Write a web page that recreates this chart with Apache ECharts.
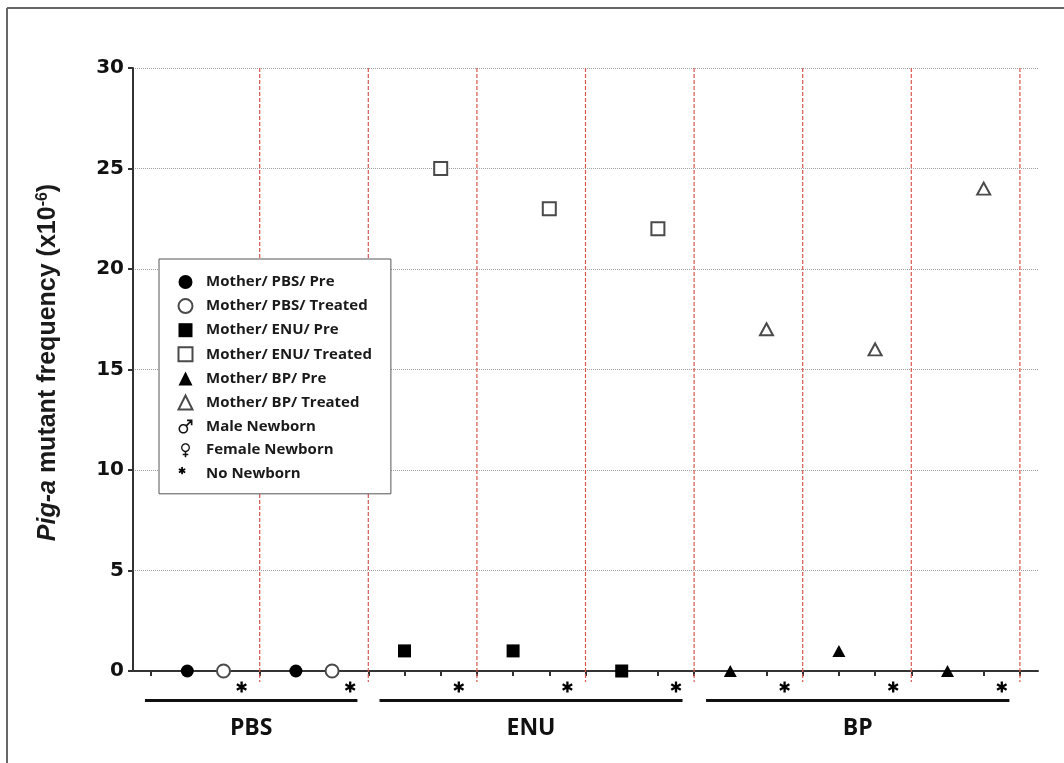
<!DOCTYPE html>
<html><head><meta charset="utf-8">
<script src="https://cdn.jsdelivr.net/npm/echarts@6/dist/echarts.min.js"></script>
<style>html,body{margin:0;padding:0;background:#fff}#c{width:1064px;height:763px}</style>
</head><body><div id="c"></div>
<script>
// ---------------- data ----------------
const animals = ['PBS 1', 'PBS 2', 'ENU 1', 'ENU 2', 'ENU 3', 'BP 1', 'BP 2', 'BP 3'];
const animalGroup = ['PBS', 'PBS', 'ENU', 'ENU', 'ENU', 'BP', 'BP', 'BP'];
const preValues = [0, 0, 1, 1, 0, 0, 1, 0];
const treatedValues = [0, 0, 25, 23, 22, 17, 16, 24];
const newbornStatus = ['none', 'none', 'none', 'none', 'none', 'none', 'none', 'none'];
const groups = ['PBS', 'ENU', 'BP'];
const yTicks = [0, 5, 10, 15, 20, 25, 30];
const legendNames = ['Mother/ PBS/ Pre', 'Mother/ PBS/ Treated', 'Mother/ ENU/ Pre', 'Mother/ ENU/ Treated',
  'Mother/ BP/ Pre', 'Mother/ BP/ Treated', 'Male Newborn', 'Female Newborn', 'No Newborn'];
const yTitle = '{i|Pig-a} mutant frequency (x10{s|-6})';

// ---------------- layout (not data) ----------------
const layout = {
  asteriskY: -0.8, groupBarY: -1.47, groupLabelY: -2.85, boundaryBottom: -0.55,
  groupSpan: { PBS: [-0.17, 5.7], ENU: [6.31, 14.68], BP: [15.33, 23.71] }
};

// ---------------- symbol paths ----------------
function f(v) { return v.toFixed(3); }
function poly(pts) { return 'M' + pts.map(p => f(p[0]) + ',' + f(p[1])).join('L') + 'Z'; }
function seg(x1, y1, x2, y2, w) {
  const L = Math.hypot(x2 - x1, y2 - y1), dx = (x2 - x1) / L, dy = (y2 - y1) / L;
  const nx = -dy * w / 2, ny = dx * w / 2;
  return poly([[x2 + nx, y2 + ny], [x1 + nx, y1 + ny], [x1 - nx, y1 - ny], [x2 - nx, y2 - ny]]);
}
function ring(cx, cy, ro, ri) {
  const o = [], n = [], N = 48;
  for (let k = 0; k < N; k++) { const t = 2 * Math.PI * k / N; o.push([cx + ro * Math.cos(t), cy + ro * Math.sin(t)]); }
  for (let k = N; k > 0; k--) { const t = 2 * Math.PI * k / N; n.push([cx + ri * Math.cos(t), cy + ri * Math.sin(t)]); }
  return poly(o) + poly(n);
}
function asterisk(cx, cy, len, w) {
  let s = '';
  [90, 30, 150].forEach(a => {
    const r = a * Math.PI / 180, dx = Math.cos(r) * len / 2, dy = Math.sin(r) * len / 2;
    s += seg(cx - dx, cy - dy, cx + dx, cy + dy, w);
  });
  return s;
}
function dot(x, y) { return 'M' + x + ',' + y + 'h0.02v0.02h-0.02Z'; }
const malePath = 'path://' + ring(7, 13, 5.5, 3.8) + seg(10.3, 9.7, 16.5, 3.5, 1.9) +
  seg(11.2, 3.45, 17.45, 3.45, 1.9) + seg(16.5, 2.5, 16.5, 9.0, 1.9);
const femalePath = 'path://' + ring(10, 7, 6, 4.2) + seg(10, 12.8, 10, 20, 2.1) + seg(6.2, 16.4, 13.8, 16.4, 2.1);
const starPath = 'path://' + asterisk(10, 10, 20, 4.2);
const starLegendPath = 'path://' + dot(0, 0) + dot(13.98, 13.98) + asterisk(3.2, 3.8, 7.5, 1.8);

// ---------------- series ----------------
const shapeOf = { PBS: 'circle', ENU: 'rect', BP: 'triangle' };
const sizeOf = { PBS: 13, ENU: 13, BP: [13, 12] };
const series = [];
groups.forEach(g => {
  const pre = [], trt = [];
  animals.forEach((a, i) => {
    if (animalGroup[i] !== g) return;
    pre.push([3 * i + 1, preValues[i]]);
    trt.push([3 * i + 2, treatedValues[i]]);
  });
  series.push({
    name: 'Mother/ ' + g + '/ Pre', type: 'scatter', data: pre, symbol: shapeOf[g], symbolSize: sizeOf[g],
    itemStyle: { color: '#000', opacity: 1 }, z: 5, clip: false
  });
  const empty = 'empty' + shapeOf[g].charAt(0).toUpperCase() + shapeOf[g].slice(1);
  series.push({
    name: 'Mother/ ' + g + '/ Treated', type: 'scatter', data: trt, symbol: empty, symbolSize: sizeOf[g],
    itemStyle: { color: '#4a4a4a', borderWidth: 1.8, opacity: 1 }, z: 5, clip: false
  });
});
const statusData = s => animals.map((a, i) => newbornStatus[i] === s ? [3 * i + 2.5, layout.asteriskY] : null).filter(Boolean);
series.push({ name: 'Male Newborn', type: 'scatter', data: statusData('male'), symbol: malePath, symbolSize: 13, symbolKeepAspect: true, itemStyle: { color: '#111', opacity: 1 }, clip: false });
series.push({ name: 'Female Newborn', type: 'scatter', data: statusData('female'), symbol: femalePath, symbolSize: 13, symbolKeepAspect: true, itemStyle: { color: '#111', opacity: 1 }, clip: false });
series.push({ name: 'No Newborn', type: 'scatter', data: statusData('none'), symbol: starPath, symbolSize: 11, symbolKeepAspect: true, itemStyle: { color: '#000', opacity: 1 }, clip: false, z: 5 });

// red dashed boundaries between animals
series.push({
  name: 'boundaries', type: 'custom', clip: false, z: 3, silent: true,
  data: animals.map((a, i) => [3 * i + 3]),
  renderItem: (params, api) => {
    const k = api.value(0), p0 = api.coord([k, 30]), p1 = api.coord([k, layout.boundaryBottom]);
    return { type: 'line', shape: { x1: p0[0], y1: p0[1], x2: p1[0], y2: p1[1] },
      style: { stroke: '#d9574f', lineWidth: 1.2, lineDash: [4, 2] } };
  }
});
// group bars and labels under the axis
series.push({
  name: 'groups', type: 'custom', clip: false, z: 3, silent: true,
  data: groups.map((g, i) => [layout.groupSpan[g][0], layout.groupSpan[g][1], i]),
  renderItem: (params, api) => {
    const x0 = api.value(0), x1 = api.value(1), gi = api.value(2);
    const p0 = api.coord([x0, layout.groupBarY]), p1 = api.coord([x1, layout.groupBarY]);
    const pl = api.coord([(x0 + x1) / 2, layout.groupLabelY]);
    return { type: 'group', children: [
      { type: 'line', shape: { x1: p0[0], y1: p0[1], x2: p1[0], y2: p1[1] }, style: { stroke: '#111', lineWidth: 3 } },
      { type: 'text', style: { text: groups[gi], x: pl[0], y: pl[1], align: 'center', verticalAlign: 'middle',
        font: 'bold 23px "Open Sans"', fill: '#111' } }
    ] };
  }
});

const legendIcons = ['circle', 'emptyCircle', 'rect', 'emptyRect', 'triangle', 'emptyTriangle', malePath, femalePath, starLegendPath];

const chart = echarts.init(document.getElementById('c'), null, { renderer: 'canvas' });
chart.setOption({
  animation: false,
  backgroundColor: '#fff',
  grid: { left: 133, right: 26, top: 68, bottom: 92, containLabel: false, outerBoundsMode: 'none' },
  xAxis: {
    type: 'value', min: -0.5, max: animals.length * 3 + 0.5,
    axisLine: { onZero: false, lineStyle: { color: '#333', width: 2 } },
    axisTick: { show: true, length: 5, lineStyle: { color: '#333', width: 2 },
      customValues: Array.from({ length: animals.length * 3 + 1 }, (_, k) => k) },
    axisLabel: { show: false }, splitLine: { show: false }
  },
  yAxis: {
    type: 'value', min: yTicks[0], max: yTicks[yTicks.length - 1], interval: 5,
    axisLine: { show: true, onZero: false, lineStyle: { color: '#333', width: 2 } },
    axisTick: { show: true, length: 5, lineStyle: { color: '#333', width: 2 } },
    axisLabel: { fontFamily: 'DejaVu Sans', fontWeight: 'bold', fontSize: 20, color: '#111', margin: 9 },
    splitLine: { show: true, lineStyle: { color: '#a0a0a0', type: 'dotted', width: 1 } },
    name: yTitle, nameLocation: 'middle', nameRotate: 90, nameGap: 72, nameMoveOverlap: false,
    nameTextStyle: {
      fontFamily: 'Liberation Sans', fontWeight: 'bold', fontSize: 25, color: '#1a1a1a', padding: [0, 0, 0, 14],
      rich: {
        i: { fontFamily: 'Liberation Sans', fontStyle: 'italic', fontWeight: 'bold', fontSize: 25, color: '#1a1a1a' },
        s: { fontFamily: 'Liberation Sans', fontWeight: 'bold', fontSize: 16, color: '#1a1a1a', verticalAlign: 'top', padding: [0, 0, 10, 0] }
      }
    }
  },
  legend: {
    orient: 'vertical', left: 159, top: 259, itemWidth: 14, itemHeight: 14, itemGap: 8.6,
    padding: [15.5, 19, 12.5, 18.5], backgroundColor: '#fff', borderColor: '#555', borderWidth: 1, borderRadius: 0,
    selectedMode: false,
    textStyle: { fontFamily: 'Open Sans', fontWeight: 'bold', fontSize: 15, color: '#1a1a1a', padding: [0, 0, 0, 8.5] },
    data: legendNames.map((n, i) => ({ name: n, icon: legendIcons[i] }))
  },
  graphic: [
    { type: 'line', shape: { x1: 7, y1: 8, x2: 1064, y2: 8 }, style: { stroke: '#666', lineWidth: 2 }, silent: true },
    { type: 'line', shape: { x1: 7, y1: 8, x2: 7, y2: 763 }, style: { stroke: '#666', lineWidth: 2 }, silent: true }
  ],
  series: series
});
</script></body></html>
